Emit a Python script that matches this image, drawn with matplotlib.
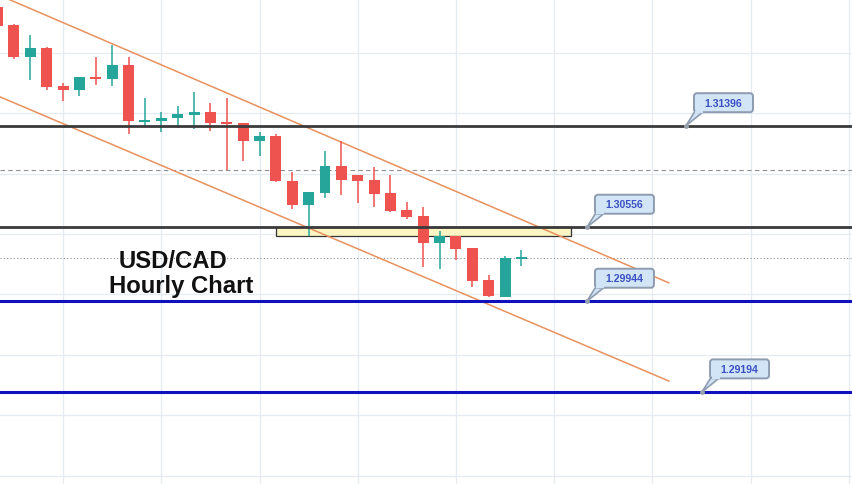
import matplotlib
matplotlib.use("Agg")
import matplotlib.pyplot as plt
from matplotlib.patches import FancyBboxPatch, Polygon, Rectangle
import numpy as np

# USD/CAD hourly candles (open, high, low, close)
opens = [1.32378, 1.32229, 1.31964, 1.32039, 1.31724, 1.31691, 1.31799, 1.31782,
         1.31898, 1.31435, 1.31435, 1.31460, 1.31485, 1.31509, 1.31427, 1.31418,
         1.31269, 1.31311, 1.30939, 1.30740, 1.30839, 1.31063, 1.30988, 1.30947,
         1.30839, 1.30699, 1.30649, 1.30426, 1.30484, 1.30384, 1.30120, 1.29979,
         1.30302]
highs = [1.32411, 1.32237, 1.32146, 1.32047, 1.31749, 1.31799, 1.31964, 1.32064,
         1.31964, 1.31625, 1.31509, 1.31559, 1.31675, 1.31584, 1.31625, 1.31418,
         1.31344, 1.31327, 1.31013, 1.30848, 1.31187, 1.31269, 1.30988, 1.31054,
         1.30988, 1.30765, 1.30723, 1.30525, 1.30484, 1.30384, 1.30161, 1.30318,
         1.30368]
lows = [1.32213, 1.31948, 1.31774, 1.31691, 1.31600, 1.31642, 1.31733, 1.31724,
        1.31327, 1.31385, 1.31344, 1.31377, 1.31369, 1.31352, 1.31030, 1.31104,
        1.31145, 1.30931, 1.30707, 1.30484, 1.30798, 1.30823, 1.30757, 1.30723,
        1.30682, 1.30624, 1.30227, 1.30211, 1.30285, 1.30062, 1.29979, 1.29979,
        1.30235]
closes = [1.32221, 1.31964, 1.32039, 1.31716, 1.31691, 1.31799, 1.31782, 1.31898,
          1.31435, 1.31443, 1.31460, 1.31493, 1.31509, 1.31418, 1.31410, 1.31269,
          1.31311, 1.30939, 1.30740, 1.30848, 1.31063, 1.30947, 1.30939, 1.30831,
          1.30690, 1.30641, 1.30426, 1.30484, 1.30376, 1.30111, 1.29987, 1.30302,
          1.30302]

resistance_levels = [1.31396, 1.30556]
support_levels = [1.29944, 1.29194]
level_labels = ["1.31396", "1.30556", "1.29944", "1.29194"]
prior_level = 1.31030
channel_x = [0, 41]
channel_upper = [1.32481, 1.30096]
channel_lower = [1.31643, 1.29284]
zone_x = [17.0, 35.0]
zone_y = [1.30484, 1.30556]
title_lines = ["USD/CAD", "Hourly Chart"]

UP = "#26a69a"
DOWN = "#ef5350"
W, H = 852, 485
X0, X1 = 0.147, 52.19
Y0, Y1 = 1.28432, 1.32444
px_x = (X1 - X0) / W      # index units per pixel
px_y = (Y1 - Y0) / H      # price units per pixel

fig = plt.figure(figsize=(W / 100, H / 100), dpi=100)
ax = fig.add_axes([0, 0, 1, 1])
ax.set_xlim(X0, X1)
ax.set_ylim(Y0, Y1)
for s in ax.spines.values():
    s.set_visible(False)
ax.set_xticks(np.arange(4, 53, 6))
ax.set_yticks(np.arange(1.285, 1.3201, 0.005))
ax.tick_params(length=0, labelbottom=False, labelleft=False)
ax.grid(True, color="#e6ebf1", lw=0.9)
ax.set_axisbelow(True)

# reference lines
ax.axhline(prior_level, color="#8c9099", lw=0.8, dashes=(4, 3), zorder=1)
ax.axhline(closes[-1], color="#8c9099", lw=0.8, dashes=(1, 2), zorder=1)

# demand/supply zone
ax.add_patch(Rectangle((zone_x[0], zone_y[0]), zone_x[1] - zone_x[0],
                       zone_y[1] - zone_y[0], facecolor="#faf5c2",
                       edgecolor="#333333", lw=0.9, zorder=2))

# descending channel
ax.plot(channel_x, channel_upper, color="#e8915f", lw=1.1, zorder=3)
ax.plot(channel_x, channel_lower, color="#e8915f", lw=1.1, zorder=3)

# candles
x = np.arange(len(opens))
o = np.array(opens); c = np.array(closes)
colors = [UP if cc >= oo else DOWN for oo, cc in zip(o, c)]
ax.vlines(x, lows, highs, colors=colors, lw=1.1, zorder=4)
min_h = 1.3 * px_y
body_h = np.where(np.abs(c - o) < min_h, min_h, np.abs(c - o))
body_b = np.minimum(o, c) - np.where(np.abs(c - o) < min_h, min_h / 2, 0)
ax.bar(x, body_h, bottom=body_b, width=0.67, color=colors, lw=0, zorder=5)

# horizontal levels
for lv in resistance_levels:
    ax.axhline(lv, color="#3a3a3a", lw=2.0, zorder=6)
for lv in support_levels:
    ax.axhline(lv, color="#1010bc", lw=2.2, zorder=6)

# price callouts
anchor_x = [42.05, 36.0, 36.0, 43.03]
levels = resistance_levels + support_levels
bw, bh = 59 * px_x, 19 * px_y
for ax_i, lv, txt in zip(anchor_x, levels, level_labels):
    bl = ax_i + 8 * px_x
    bb = lv + 13.5 * px_y
    tail = Polygon([(ax_i, lv), (bl + 1 * px_x, bb + 1 * px_y),
                    (bl + 10 * px_x, bb + 1 * px_y)], closed=True,
                   facecolor="#d2e5f6", edgecolor="#8e9caf", lw=1.2, zorder=7)
    ax.add_patch(tail)
    box = FancyBboxPatch((bl, bb), bw, bh,
                         boxstyle="round,pad=0,rounding_size=%f" % (3 * px_x),
                         mutation_aspect=px_y / px_x,
                         facecolor="#d2e5f6", edgecolor="#8e9caf", lw=1.4,
                         zorder=8)
    ax.add_patch(box)
    ax.plot([bl + 1.5 * px_x, bl + 9.5 * px_x], [bb + 0.6 * px_y] * 2,
            color="#d2e5f6", lw=1.6, zorder=9, solid_capstyle="butt")
    ax.plot([ax_i], [lv], marker="o", ms=2.5, color="#9aa4b0", zorder=9)
    ax.text(bl + bw / 2, bb + bh / 2, txt, ha="center", va="center",
            fontsize=7.6, fontweight="bold", color="#3a50c4",
            family="Liberation Sans", zorder=10)

# chart caption
ax.text(173 / W, 1 - 268 / H, title_lines[0], transform=ax.transAxes,
        ha="center", va="baseline", fontsize=17.2, fontweight="bold",
        family="Liberation Sans", color="#111111", zorder=10)
ax.text(181.5 / W, 1 - 293 / H, title_lines[1], transform=ax.transAxes,
        ha="center", va="baseline", fontsize=17.2, fontweight="bold",
        family="Liberation Sans", color="#111111", zorder=10)

fig.savefig("out.png", dpi=100, facecolor="white")
